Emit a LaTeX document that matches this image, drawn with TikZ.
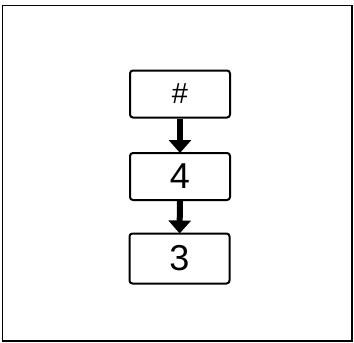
\documentclass[tikz,border=0pt]{standalone}
\usepackage{fontspec}
\setmainfont{Liberation Sans}
\usetikzlibrary{arrows.meta}
\begin{document}
\begin{tikzpicture}[x=1pt,y=-1pt,
  cell/.style={draw, line width=2pt, rounded corners=3pt, minimum width=100pt, minimum height=47pt, inner sep=0pt},
  flow/.style={line width=6pt, -{Triangle[width=22pt,length=13pt]}, shorten >=-1pt}]
\useasboundingbox (0,0) rectangle (354,343);
\fill[white] (0,0) rectangle (354,343);
\draw[line width=1.2pt] (2.5,5.5) rectangle (352,341);
\node[cell, font=\fontsize{29}{31}\selectfont] (h) at (180,94) {\#};
\node[cell, font=\fontsize{36}{38}\selectfont] (f) at (180,176.5) {4};
\node[cell, font=\fontsize{36}{38}\selectfont, minimum height=50pt] (t) at (179.5,258.5) {3};
\draw[flow] (h) -- (f);
\draw[flow] (f) -- (t);
\end{tikzpicture}
\end{document}
